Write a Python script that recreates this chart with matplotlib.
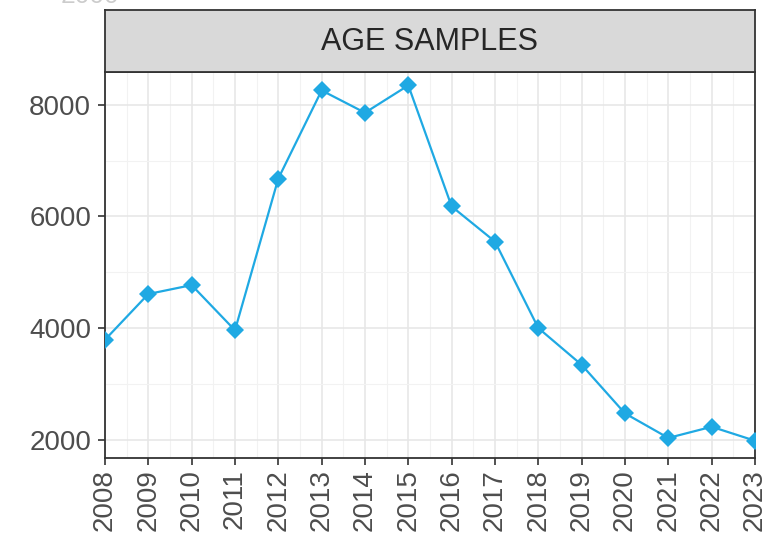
import matplotlib
matplotlib.use("Agg")
import matplotlib.pyplot as plt
from matplotlib.patches import Rectangle
from matplotlib.ticker import MultipleLocator

plt.rcParams["font.family"] = ["Liberation Sans", "DejaVu Sans"]

# Data
years = [2008, 2009, 2010, 2011, 2012, 2013, 2014, 2015,
         2016, 2017, 2018, 2019, 2020, 2021, 2022, 2023]
samples = [3790, 4610, 4770, 3960, 6680, 8260, 7860, 8350,
           6180, 5550, 4000, 3340, 2470, 2030, 2230, 1980]
y_ticks = [2000, 4000, 6000, 8000]
panel_title = "AGE SAMPLES"

line_color = "#1FA9E3"
text_color = "#4D4D4D"
border_color = "#333333"

fig = plt.figure(figsize=(7.64, 5.48), dpi=100)
ax = fig.add_axes([0.1374, 0.1642, 0.8508, 0.7044])

ax.plot(years, samples, color=line_color, linewidth=1.6,
        marker="D", markersize=9.5, markeredgewidth=0, zorder=3)

ax.set_xlim(2008, 2023)
ax.set_ylim(1670, 8590)
ax.set_xticks(years)
ax.set_xticklabels([str(y) for y in years], rotation=90)
ax.set_yticks(y_ticks)
ax.xaxis.set_minor_locator(MultipleLocator(0.5))
ax.yaxis.set_minor_locator(MultipleLocator(1000))

ax.grid(which="major", color="#E6E6E6", linewidth=1.1)
ax.grid(which="minor", color="#F2F2F2", linewidth=0.8)
ax.set_axisbelow(True)

ax.tick_params(which="major", length=5, width=1.2, color=border_color,
               labelsize=20, labelcolor=text_color)
ax.tick_params(axis="y", pad=5)
ax.tick_params(axis="x", pad=3)
ax.tick_params(which="minor", length=0)

for side in ax.spines.values():
    side.set_color(border_color)
    side.set_linewidth(1.3)

# facet strip on top of the panel
strip = fig.add_axes([0.1374, 0.8686, 0.8508, 0.1132])
strip.add_patch(Rectangle((0, 0), 1, 1, transform=strip.transAxes,
                          facecolor="#D9D9D9", edgecolor="none"))
strip.set_xticks([])
strip.set_yticks([])
for side in strip.spines.values():
    side.set_color(border_color)
    side.set_linewidth(1.3)
strip.text(0.5, 0.48, panel_title, ha="center", va="center",
           fontsize=22, color="#262626", transform=strip.transAxes)

# cut-off label from the chart above
fig.text(0.118, 1.0 - 3 / 548, "2000", ha="center", va="baseline",
         fontsize=19, color="#CCCCCC")

fig.savefig("out.png", dpi=100)
